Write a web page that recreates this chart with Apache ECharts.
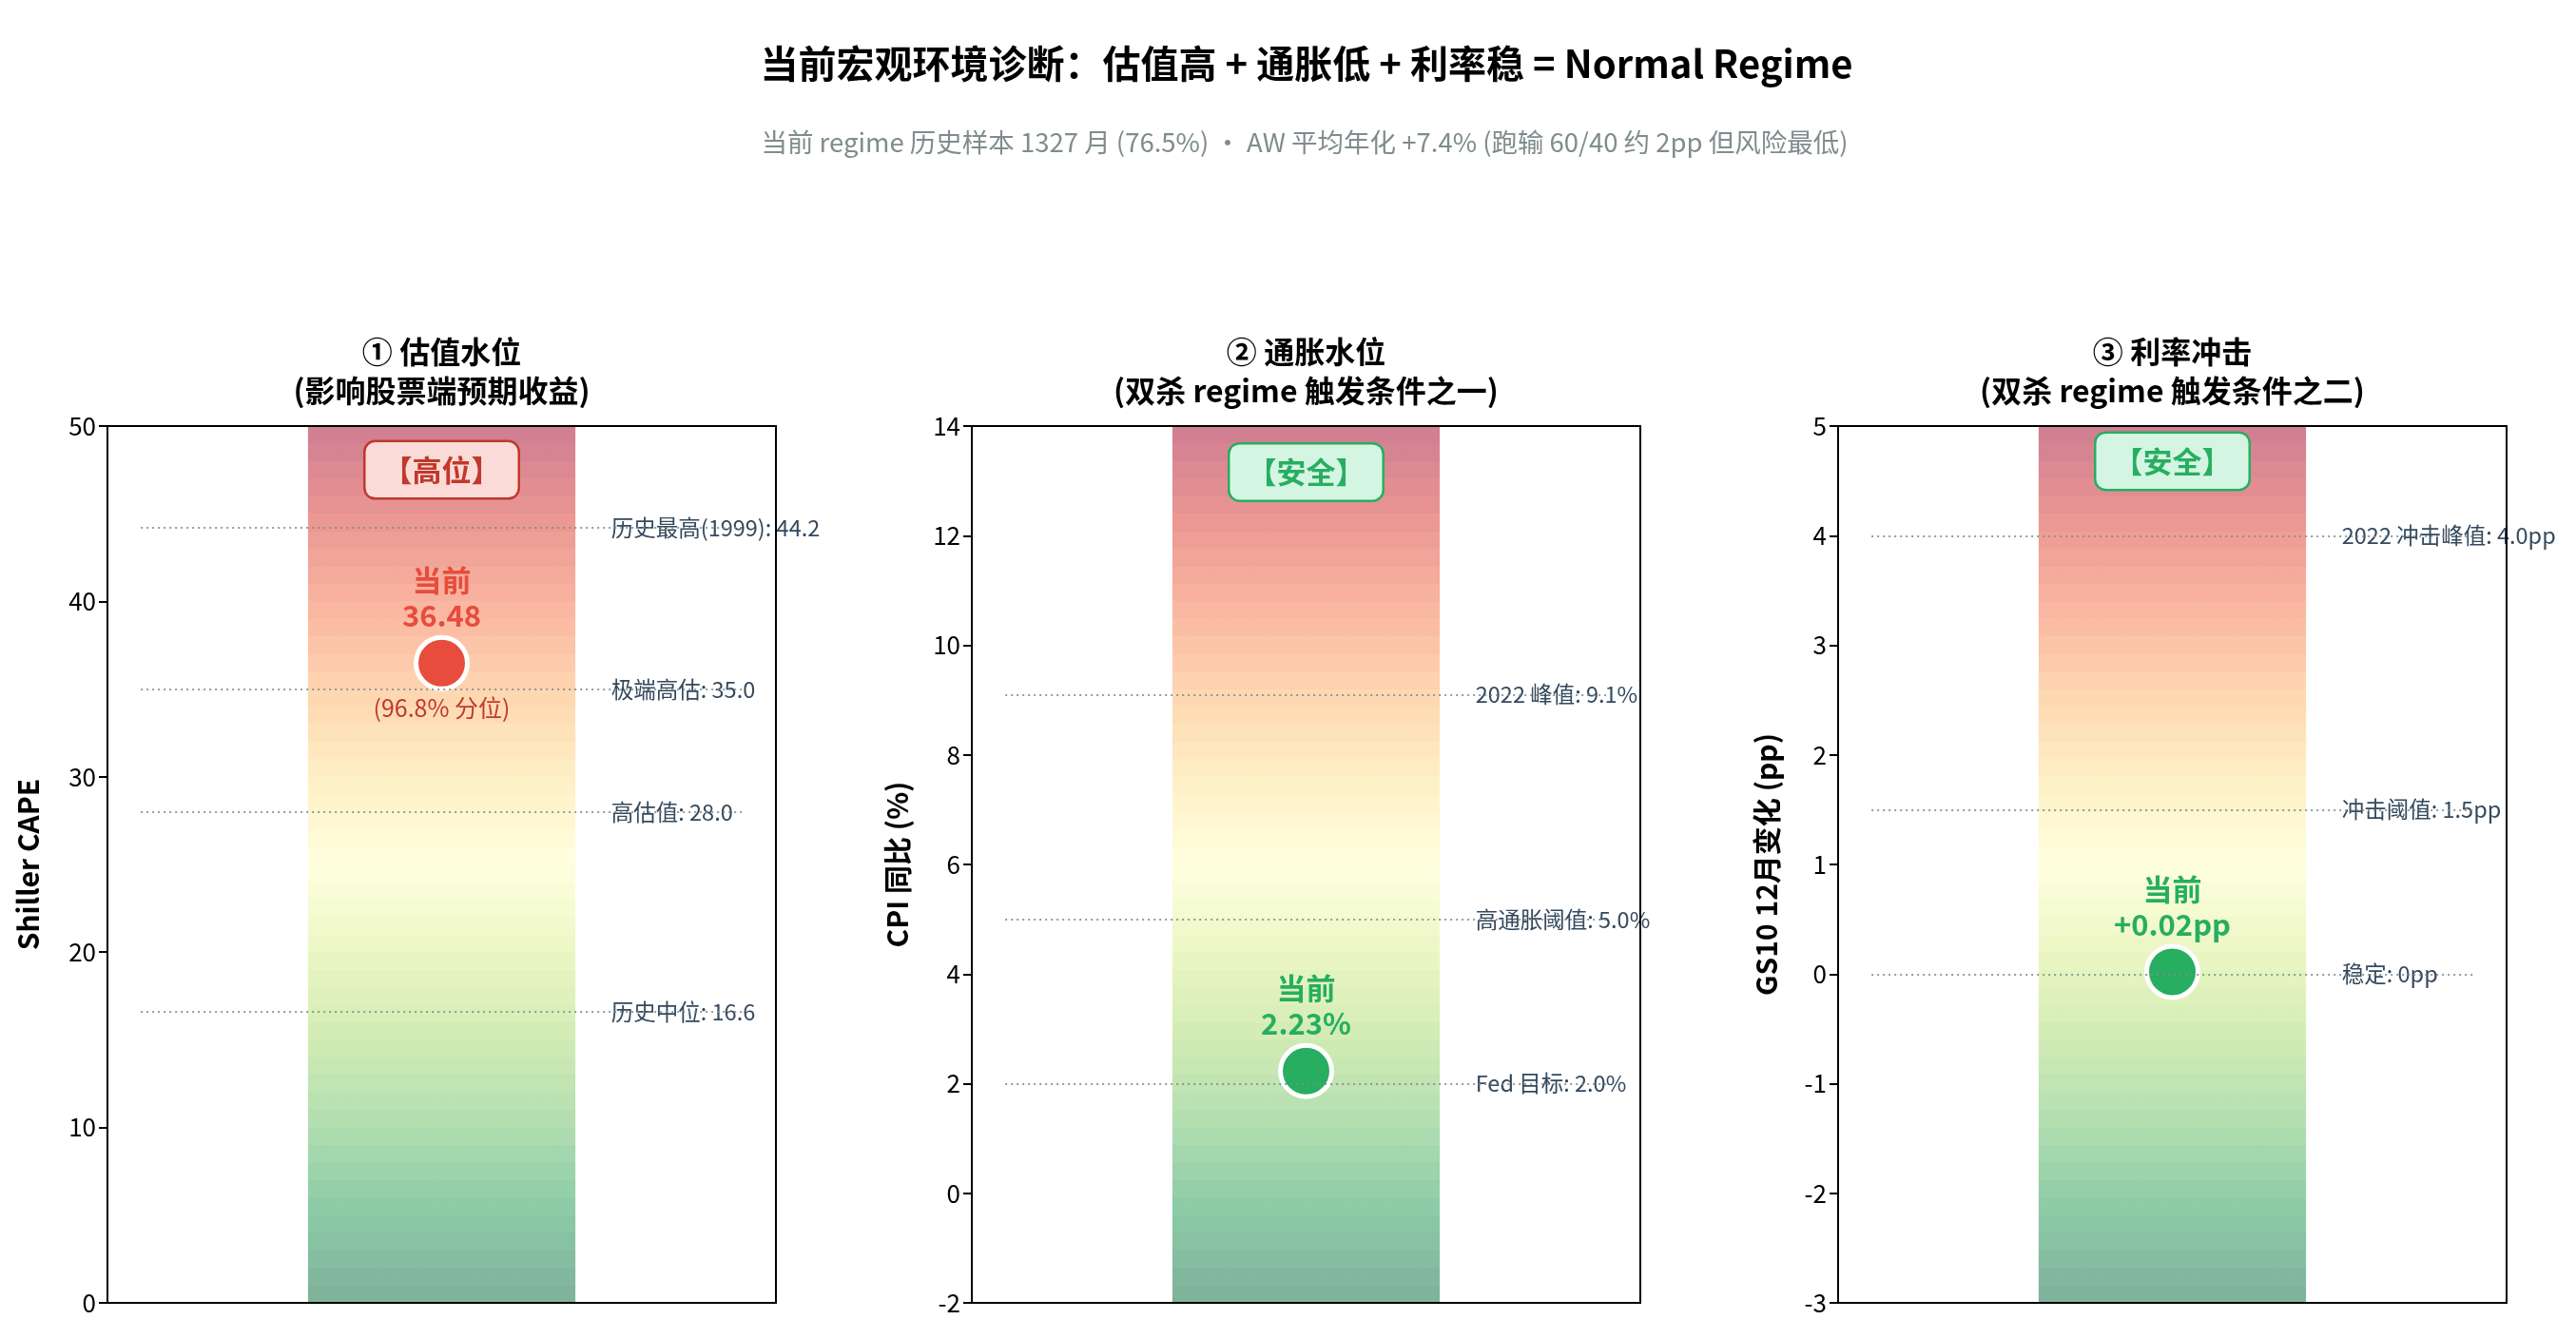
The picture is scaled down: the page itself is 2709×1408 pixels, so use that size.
<!DOCTYPE html>
<html>
<head>
    <meta charset="utf-8"/>
    <title>当前宏观环境诊断</title>
    <style>
        html, body { margin: 0; padding: 0; background: #fff; }
        #main { width: 2709px; height: 1408px; }
    </style>
</head>
<body>
<div id="main"></div>
<script src="https://cdn.jsdelivr.net/npm/echarts@6/dist/echarts.min.js"></script>
<script>
    // ---- data ----
    let panelTitles = ['① 估值水位\n(影响股票端预期收益)', '② 通胀水位\n(双杀 regime 触发条件之一)', '③ 利率冲击\n(双杀 regime 触发条件之二)'];
    let yNames = ['Shiller CAPE', 'CPI 同比 (%)', 'GS10 12月变化 (pp)'];
    let yMin = [0, -2, -3];
    let yMax = [50, 14, 5];
    let yStep = [10, 2, 1];

    let currentValues = [36.48, 2.23, 0.02];
    let currentLabels = ['36.48', '2.23%', '+0.02pp'];
    let percentileLabels = ['(96.8% 分位)', '', ''];
    let statusLabels = ['【高位】', '【安全】', '【安全】'];
    let statusY = [47.5, 13.16, 4.68];

    let capeRefValues = [44.2, 35.0, 28.0, 16.6];
    let capeRefLabels = ['历史最高(1999): 44.2', '极端高估: 35.0', '高估值: 28.0', '历史中位: 16.6'];
    let cpiRefValues = [9.1, 5.0, 2.0];
    let cpiRefLabels = ['2022 峰值: 9.1%', '高通胀阈值: 5.0%', 'Fed 目标: 2.0%'];
    let rateRefValues = [4.0, 1.5, 0];
    let rateRefLabels = ['2022 冲击峰值: 4.0pp', '冲击阈值: 1.5pp', '稳定: 0pp'];

    let refValues = [capeRefValues, cpiRefValues, rateRefValues];
    let refLabels = [capeRefLabels, cpiRefLabels, rateRefLabels];

    // ---- layout / style ----
    const FONT = 'Noto Sans CJK SC';
    const LEFTS = [113, 1022, 1933];
    const GRID_W = 703, GRID_TOP = 448, GRID_H = 922;
    const NAME_GAPS = [68, 63, 60];
    const BAR_HALF = 0.2;
    const BANDS = 50;
    let red = {point: '#e74c3c', text: '#c0392b', bg: '#fadbd8'};
    let green = {point: '#27ae60', text: '#27ae60', bg: '#d5f5e3'};
    let panelColors = [red, green, green];

    // RdYlGn anchors (reversed below: green at bottom, red at top)
    let rdylgn = ['#a50026', '#d73027', '#f46d43', '#fdae61', '#fee08b', '#ffffbf',
        '#d9ef8b', '#a6d96a', '#66bd63', '#1a9850', '#006837'];

    function hexRgb(h) {
        return [parseInt(h.substr(1, 2), 16), parseInt(h.substr(3, 2), 16), parseInt(h.substr(5, 2), 16)];
    }

    function cmap(t) { // t=0 bottom (green) .. 1 top (red)
        let s = (1 - t) * (rdylgn.length - 1);
        let i = Math.min(Math.floor(s), rdylgn.length - 2);
        let f = s - i;
        let a = hexRgb(rdylgn[i]), b = hexRgb(rdylgn[i + 1]);
        let c = a.map((v, k) => Math.round(v + (b[k] - v) * f));
        return 'rgba(' + c[0] + ',' + c[1] + ',' + c[2] + ',0.5)';
    }

    let bandStops = [];
    for (let k = 0; k < BANDS; k++) {
        let col = cmap((BANDS - 1 - k) / (BANDS - 1));
        bandStops.push({offset: k / BANDS, color: col});
        bandStops.push({offset: (k + 1) / BANDS, color: col});
    }

    let grids = [], xAxes = [], yAxes = [], series = [], graphics = [];

    graphics.push({
        type: 'text', x: 1374, y: 67, silent: true,
        style: {text: '当前宏观环境诊断：估值高 + 通胀低 + 利率稳 = Normal Regime', fontFamily: FONT,
            fontSize: 40, fontWeight: 'bold', fill: '#000', align: 'center', verticalAlign: 'middle'}
    });
    graphics.push({
        type: 'text', x: 1372, y: 150, silent: true,
        style: {text: '当前 regime 历史样本 1327 月 (76.5%) · AW 平均年化 +7.4% (跑输 60/40 约 2pp 但风险最低)',
            fontFamily: FONT, fontSize: 27.5, fill: '#7f8c8d', align: 'center', verticalAlign: 'middle'}
    });

    for (let i = 0; i < 3; i++) {
        let col = panelColors[i];
        grids.push({left: LEFTS[i], top: GRID_TOP, width: GRID_W, height: GRID_H});

        graphics.push({
            type: 'text', x: LEFTS[i] + GRID_W / 2, y: 390, silent: true,
            style: {text: panelTitles[i], fontFamily: FONT, fontSize: 32, fontWeight: 'bold', lineHeight: 41,
                fill: '#000', align: 'center', verticalAlign: 'middle'}
        });

        let spine = {show: true, onZero: false, lineStyle: {color: '#000', width: 2}};
        ['bottom', 'top'].forEach(function (pos) {
            xAxes.push({
                type: 'value', gridIndex: i, position: pos, min: -0.5, max: 0.5, z: 10,
                axisLine: spine, axisTick: {show: false}, axisLabel: {show: false}, splitLine: {show: false}
            });
        });
        yAxes.push({
            type: 'value', gridIndex: i, position: 'left', min: yMin[i], max: yMax[i], interval: yStep[i], z: 10,
            name: yNames[i], nameLocation: 'middle', nameGap: NAME_GAPS[i],
            nameTextStyle: {fontFamily: FONT, fontSize: 30, fontWeight: 'bold', color: '#000'},
            axisLine: spine,
            axisTick: {show: true, length: 9, lineStyle: {color: '#000', width: 2}},
            axisLabel: {fontFamily: FONT, fontSize: 26, color: '#000', margin: 12},
            splitLine: {show: false}
        });
        yAxes.push({
            type: 'value', gridIndex: i, position: 'right', min: yMin[i], max: yMax[i], interval: yStep[i], z: 10,
            axisLine: spine, axisTick: {show: false}, axisLabel: {show: false}, splitLine: {show: false}
        });

        let xi = i * 2, yi = i * 2;
        let clear = {color: 'rgba(0,0,0,0)', opacity: 1};

        // gradient column spanning the whole axis range
        series.push({
            type: 'custom', xAxisIndex: xi, yAxisIndex: yi, z: 1, silent: true,
            data: [[-BAR_HALF, yMin[i], BAR_HALF, yMax[i]]],
            encode: {x: [0, 2], y: [1, 3]},
            renderItem: function (params, api) {
                let p0 = api.coord([api.value(0), api.value(3)]);
                let p1 = api.coord([api.value(2), api.value(1)]);
                return {
                    type: 'rect',
                    shape: {x: p0[0], y: p0[1], width: p1[0] - p0[0], height: p1[1] - p0[1]},
                    style: {fill: new echarts.graphic.LinearGradient(0, 0, 0, 1, bandStops)}
                };
            }
        });

        // reference lines + their labels
        series.push({
            type: 'scatter', xAxisIndex: xi, yAxisIndex: yi, z: 2, silent: true,
            symbolSize: 1, itemStyle: clear,
            data: refValues[i].map((v, k) => ({value: [0.25, v], name: refLabels[i][k]})),
            label: {show: true, position: 'right', distance: 2, formatter: '{b}',
                fontFamily: FONT, fontSize: 23.5, color: '#34495e'},
            markLine: {
                silent: true, symbol: ['none', 'none'], label: {show: false},
                lineStyle: {type: [2, 4], color: '#7f8c8d', width: 2, opacity: 0.85},
                data: refValues[i].map(v => [{coord: [-0.45, v]}, {coord: [0.45, v]}])
            }
        });

        // current value
        series.push({
            type: 'scatter', xAxisIndex: xi, yAxisIndex: yi, z: 4, silent: true,
            symbolSize: 54,
            itemStyle: {color: col.point, borderColor: '#fff', borderWidth: 5, opacity: 1},
            data: [[0, currentValues[i]]],
            label: {show: true, position: 'top', distance: 2, formatter: '当前\n' + currentLabels[i],
                fontFamily: FONT, fontSize: 31, fontWeight: 'bold', lineHeight: 37, color: col.point, align: 'center'}
        });

        if (percentileLabels[i]) {
            series.push({
                type: 'scatter', xAxisIndex: xi, yAxisIndex: yi, z: 4, silent: true,
                symbolSize: 1, itemStyle: clear,
                data: [[0, currentValues[i]]],
                label: {show: true, position: 'bottom', distance: 34, formatter: percentileLabels[i],
                    fontFamily: FONT, fontSize: 25, color: col.text}
            });
        }

        // status badge
        series.push({
            type: 'scatter', xAxisIndex: xi, yAxisIndex: yi, z: 5, silent: true,
            symbolSize: 1, itemStyle: clear,
            data: [[0, statusY[i]]],
            label: {show: true, position: 'inside', formatter: statusLabels[i],
                fontFamily: FONT, fontSize: 31, fontWeight: 'bold', lineHeight: 32, color: col.text,
                backgroundColor: col.bg, borderColor: col.text, borderWidth: 2.5, borderRadius: 10,
                padding: [13, 18]}
        });
    }

    let myChart = echarts.init(document.getElementById('main'));
    myChart.setOption({
        backgroundColor: '#fff',
        animation: false,
        grid: grids,
        xAxis: xAxes,
        yAxis: yAxes,
        series: series,
        graphic: graphics
    });
</script>
</body>
</html>
